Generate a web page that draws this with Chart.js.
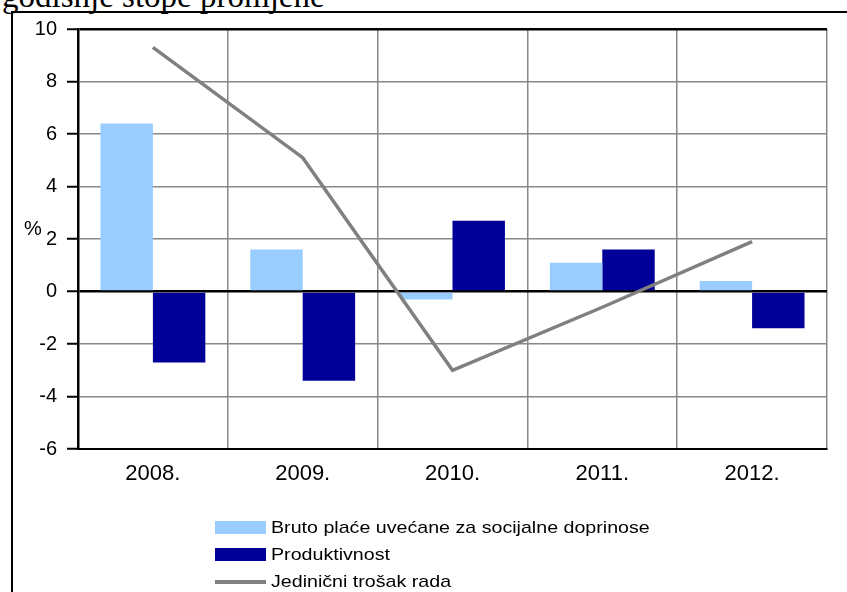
<!DOCTYPE html>
<html>
<head>
<meta charset="utf-8">
<script src="https://cdn.jsdelivr.net/npm/chart.js@4"></script>
<style>
  body { margin: 0; background: #fff; overflow: hidden; }
  #wrap { position: relative; width: 847px; height: 592px; overflow: hidden; }
  #frame { position: absolute; left: 11px; top: 11px; width: 900px; height: 700px;
           border: 2px solid #000; box-sizing: border-box; }
  #title { position: absolute; left: 2px; top: -20px; font-family: "Liberation Serif", serif;
           font-size: 33px; line-height: 32px; color: #000; white-space: nowrap; }
  #chart { position: absolute; left: 0; top: 0; }
  #pct { position: absolute; left: 24px; top: 217px; font-family: "Liberation Sans", Arial, sans-serif;
         font-size: 20px; }
  #legend { position: absolute; left: 215px; top: 514px; font-family: "Liberation Sans", Arial, sans-serif;
            font-size: 17px; color: #000; }
  .item { height: 27px; display: flex; align-items: center; }
  .sw { width: 51px; margin-right: 5px; }
  .txt { display: inline-block; transform: scaleX(1.155); transform-origin: left center; white-space: nowrap; }
</style>
</head>
<body>
<div id="wrap">
  <div id="title">godišnje stope promjene</div>
  <div id="frame"></div>
  <canvas id="chart" width="847" height="592"></canvas>
  <div id="pct">%</div>
  <div id="legend"></div>
</div>
<script>
// godine i serije (u %)
const years = ['2008.', '2009.', '2010.', '2011.', '2012.'];
const bruto = [6.4, 1.6, -0.3, 1.1, 0.4];
const produktivnost = [-2.7, -3.4, 2.7, 1.6, -1.4];
const trosak = [9.3, 5.1, -3.0, -0.6, 1.9];
const yTicks = [-6, -4, -2, 0, 2, 4, 6, 8, 10];

const fontX = { family: '"Liberation Sans", Arial, sans-serif', size: 22 };
const fontY = { family: '"Liberation Sans", Arial, sans-serif', size: 20 };

const datasets = [
  { type: 'line', label: 'Jedinični trošak rada', data: trosak, borderColor: '#808080',
    backgroundColor: '#808080', borderWidth: 3.5, pointRadius: 0, tension: 0, order: 0 },
  { label: 'Bruto plaće uvećane za socijalne doprinose', data: bruto,
    backgroundColor: '#99CCFF', order: 1 },
  { label: 'Produktivnost', data: produktivnost, backgroundColor: '#000099', order: 1 }
];

new Chart(document.getElementById('chart'), {
  type: 'bar',
  data: { labels: years, datasets: datasets },
  options: {
    responsive: false,
    animation: false,
    layout: { padding: { left: 0, top: 29, right: 20, bottom: 103 } },
    plugins: { legend: { display: false }, tooltip: { enabled: false } },
    datasets: { bar: { categoryPercentage: 0.7, barPercentage: 1.0 } },
    scales: {
      x: {
        grid: {
          offset: true,
          color: ctx => ctx.index === years.length ? '#000' : '#888',
          lineWidth: ctx => ctx.index === years.length ? 2 : 1.5,
          tickLength: 0
        },
        border: { color: '#000', width: 2 },
        ticks: { color: '#000', font: fontX, padding: 12 },
        afterFit: s => { s.height = 40; }
      },
      y: {
        min: -6, max: 10,
        afterBuildTicks: s => { s.ticks = yTicks.map(v => ({ value: v })); },
        grid: {
          color: ctx => (ctx.tick && (ctx.tick.value === 0 || ctx.tick.value === 10)) ? '#000' : '#888',
          lineWidth: ctx => (ctx.tick && (ctx.tick.value === 0 || ctx.tick.value === 10)) ? 2.5 : 1.5,
          tickColor: '#000',
          tickLength: 11,
          tickWidth: 2
        },
        border: { color: '#000', width: 2.5 },
        ticks: { color: '#000', font: fontY, padding: 10 },
        afterFit: s => { s.width = 78; }
      }
    }
  }
});

// legenda
const order = [1, 2, 0];
const leg = document.getElementById('legend');
order.forEach(i => {
  const d = datasets[i];
  const row = document.createElement('div');
  row.className = 'item';
  const sw = document.createElement('span');
  sw.className = 'sw';
  sw.style.height = d.type === 'line' ? '4px' : '13px';
  sw.style.background = d.backgroundColor;
  row.appendChild(sw);
  const t = document.createElement('span');
  t.className = 'txt';
  t.textContent = d.label;
  row.appendChild(t);
  leg.appendChild(row);
});
</script>
</body>
</html>
